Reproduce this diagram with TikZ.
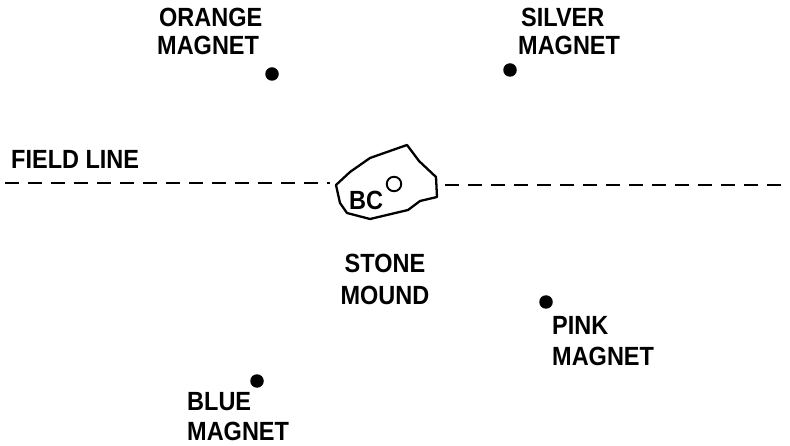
\documentclass[tikz,border=0pt]{standalone}
\usepackage{fontspec}
\setmainfont{Liberation Sans}
\newcommand{\tallt}[1]{\scalebox{1}[1.12]{#1}}
\begin{document}
\begin{tikzpicture}[x=1pt,y=-1pt,
  lbl/.style={font=\bfseries\fontsize{23.5}{23.5}\selectfont, inner sep=0pt, anchor=base west},
  lblc/.style={font=\bfseries\fontsize{23.5}{23.5}\selectfont, inner sep=0pt, anchor=base},
  magdot/.style={circle, fill=black, inner sep=0pt, minimum size=13.5pt},
  fieldline/.style={line width=2.2pt, dash pattern=on 14pt off 9pt},
  outline/.style={line width=2.3pt, line join=round}]
\useasboundingbox (0,0) rectangle (790,446);
% labels
\node[lbl] (or1) at (159,27) {\tallt{ORANGE}};
\node[lbl] (or2) at (157,55) {\tallt{MAGNET}};
\node[magdot] (ordot) at (272,74) {};
\node[lbl] (si1) at (521,27) {\tallt{SILVER}};
\node[lbl] (si2) at (518,55) {\tallt{MAGNET}};
\node[magdot] (sidot) at (510,70) {};
\node[lbl] (fl) at (11,169) {\tallt{FIELD LINE}};
\node[lblc] (st1) at (385,273) {\tallt{STONE}};
\node[lblc] (st2) at (385,305) {\tallt{MOUND}};
\node[magdot] (pidot) at (546,302) {};
\node[lbl] (pi1) at (552,335) {\tallt{PINK}};
\node[lbl] (pi2) at (552,366) {\tallt{MAGNET}};
\node[magdot] (bldot) at (257,381) {};
\node[lbl] (bl1) at (187,410) {\tallt{BLUE}};
\node[lbl] (bl2) at (187,440) {\tallt{MAGNET}};
% stone mound
\draw[outline] (336,185) -- (350,172) -- (370,158) -- (387,152) -- (407,145)
  -- (419,161) -- (436,177) -- (437,197) -- (420,201) -- (408,210)
  -- (370,219) -- (347,213) -- (340,203) -- cycle;
\node[lblc] (bc) at (366,210) {\tallt{BC}};
\node[circle, draw, line width=1.9pt, minimum size=14.5pt, inner sep=0pt] (hole) at (394,184) {};
% field line
\coordinate (fa) at (5,183);
\coordinate (fb) at (330,183);
\coordinate (fc) at (445,185);
\coordinate (fd) at (786,185);
\draw[fieldline] (fa) -- (fb);
\draw[fieldline] (fc) -- (fd);
\end{tikzpicture}
\end{document}
